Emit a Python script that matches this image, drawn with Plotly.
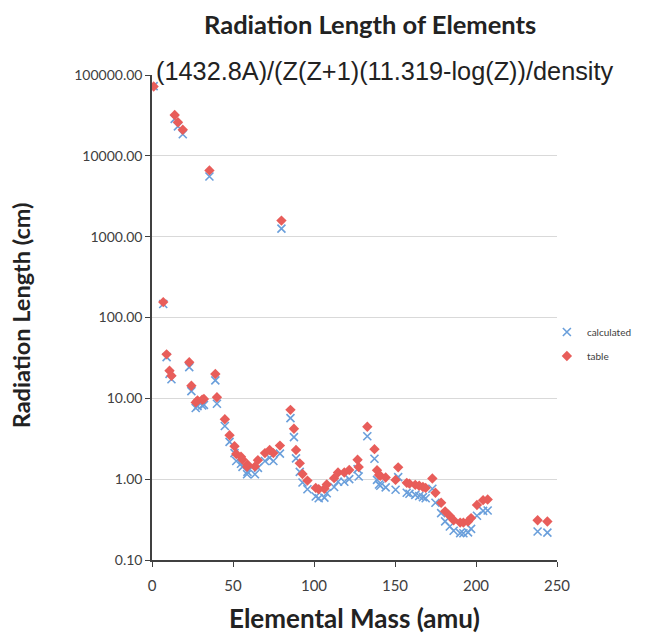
import plotly.graph_objects as go

# Elemental mass (amu) of each plotted element
mass = [1.008, 6.94, 9.01, 10.81, 12.01, 14.01, 16.00, 19.00, 22.99, 24.31,
        26.98, 28.09, 30.97, 32.06, 35.45, 39.10, 40.08, 44.96, 47.87, 50.94,
        52.00, 54.94, 55.85, 58.93, 58.69, 63.55, 65.38, 69.72, 72.63, 74.92,
        78.97, 79.90, 85.47, 87.62, 88.91, 91.22, 92.91, 95.95, 101.07, 102.91,
        106.42, 107.87, 112.41, 114.82, 118.71, 121.76, 127.60, 126.90, 132.91, 137.33,
        138.91, 140.12, 140.91, 144.24, 150.36, 151.96, 157.25, 158.93, 162.50, 164.93,
        167.26, 168.93, 173.05, 174.97, 178.49, 180.95, 183.84, 186.21, 190.23, 192.22,
        195.08, 196.97, 200.59, 204.38, 207.20, 238.03, 244.06]

# Radiation length from table (cm)
table = [72000, 155, 35, 22, 19, 32000, 26000, 21000, 28, 14.3,
         8.9, 9.4, 9.6, 9.8, 6600, 20, 10.3, 5.5, 3.5, 2.55,
         2.05, 1.9, 1.75, 1.52, 1.42, 1.43, 1.72, 2.1, 2.3, 2.1,
         2.6, 1580, 7.2, 4.2, 2.3, 1.57, 1.16, 0.96, 0.78, 0.75,
         0.76, 0.86, 1.03, 1.21, 1.21, 1.30, 1.41, 1.74, 4.45, 2.35,
         1.29, 1.13, 1.10, 1.05, 0.98, 1.40, 0.90, 0.88, 0.85, 0.83,
         0.80, 0.78, 1.02, 0.68, 0.51, 0.40, 0.35, 0.31, 0.29, 0.29,
         0.30, 0.33, 0.48, 0.55, 0.56, 0.31, 0.30]

# Radiation length calculated with the formula (cm)
calculated = [72700, 147, 32.4, 20.1, 17.2, 28600, 23100, 18500, 24.3, 12.3,
              7.6, 8.0, 8.15, 8.3, 5550, 16.7, 8.56, 4.55, 2.89, 2.10,
              1.68, 1.55, 1.42, 1.23, 1.15, 1.15, 1.38, 1.68, 1.84, 1.68,
              2.07, 1255, 5.7, 3.31, 1.81, 1.23, 0.91, 0.75, 0.61, 0.58,
              0.59, 0.67, 0.80, 0.93, 0.93, 1.00, 1.08, 1.33, 3.40, 1.79,
              0.98, 0.86, 0.83, 0.79, 0.74, 1.06, 0.68, 0.66, 0.64, 0.62,
              0.60, 0.58, 0.76, 0.51, 0.38, 0.30, 0.26, 0.23, 0.215, 0.214,
              0.22, 0.243, 0.353, 0.405, 0.41, 0.225, 0.218]

y_tickvals = [0.1, 1, 10, 100, 1000, 10000, 100000]
y_ticktext = ["0.10", "1.00", "10.00", "100.00", "1000.00", "10000.00", "100000.00"]
x_tickvals = [0, 50, 100, 150, 200, 250]

fig = go.Figure()
fig.add_trace(go.Scatter(
    x=mass, y=calculated, mode="markers", name="calculated", legendgroup="c",
    marker=dict(symbol="x-thin", size=8, line=dict(color="#6a9fdb", width=1.6)),
))
fig.add_trace(go.Scatter(
    x=mass, y=table, mode="markers", name="table", legendgroup="t",
    marker=dict(symbol="diamond", size=8, color="#e85d5a"),
))

font_main = "Lato, Open Sans, DejaVu Sans, sans-serif"

# the page body adds an 8px offset, so the figure is 8px smaller than the window
fig.update_layout(
    width=648, height=627,
    margin=dict(l=144, r=99, t=67, b=75),
    paper_bgcolor="white", plot_bgcolor="white",
    font=dict(family=font_main, color="#404040", size=14),
    showlegend=True,
    legend=dict(x=0.975, y=0.5, xanchor="left", yanchor="top",
                font=dict(size=10, color="#404040"), bgcolor="rgba(0,0,0,0)",
                itemwidth=30, tracegroupgap=5, traceorder="grouped"),
    xaxis=dict(range=[0, 250], tickvals=x_tickvals, showgrid=False,
               showline=True, linecolor="#404040", linewidth=1.5,
               ticks="outside", ticklen=5, tickcolor="#404040",
               ticklabelstandoff=6,
               tickfont=dict(size=15, color="#404040"), zeroline=False),
    yaxis=dict(type="log", range=[-1, 5], tickvals=y_tickvals, ticktext=y_ticktext,
               showgrid=True, gridcolor="#d9d9d9", gridwidth=1.2,
               showline=True, linecolor="#404040", linewidth=1.5,
               ticks="outside", ticklen=5, tickcolor="#404040",
               tickfont=dict(size=14, color="#404040"), zeroline=False),
    annotations=[
        dict(text="<b>Radiation Length of Elements</b>", xref="paper", yref="paper",
             x=0.538, y=1.0 + 51 / 485, xanchor="center", yanchor="middle",
             showarrow=False, font=dict(size=25.5, color="#222222", family=font_main)),
        dict(text="(1432.8A)/(Z(Z+1)(11.319-log(Z))/density", xref="paper", yref="paper",
             x=0.005, y=1.0 + 4 / 485, xanchor="left", yanchor="middle",
             showarrow=False, font=dict(size=25.3, color="#222222",
                                        family="Liberation Sans, Arial, sans-serif")),
        dict(text="<b>Radiation Length (cm)</b>", xref="paper", yref="paper",
             x=-0.323, y=0.505, xanchor="center", yanchor="middle", textangle=-90,
             showarrow=False, font=dict(size=23.5, color="#222222", family=font_main)),
        dict(text="<b>Elemental Mass (amu)</b>", xref="paper", yref="paper",
             x=0.50, y=-(58 / 485), xanchor="center", yanchor="middle",
             showarrow=False, font=dict(size=26, color="#222222", family=font_main)),
    ],
)

fig.write_html("out.html")
